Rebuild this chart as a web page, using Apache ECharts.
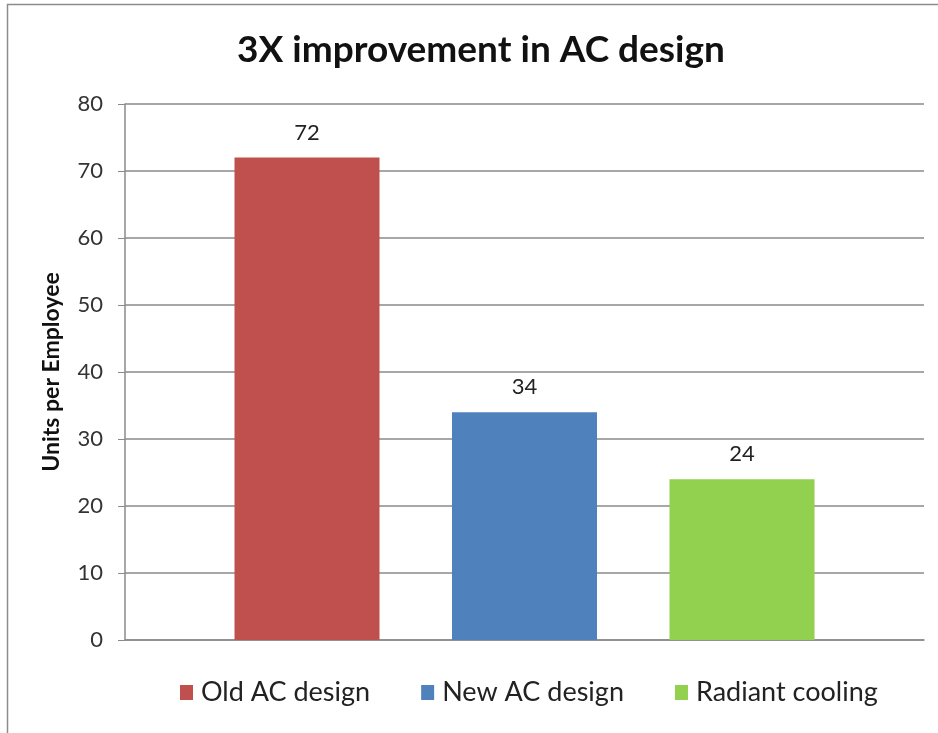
<!DOCTYPE html>
<html>
<head>
<meta charset="utf-8">
<style>
  html, body { margin: 0; padding: 0; background: #ffffff; }
  #chart { width: 938px; height: 733px; }
</style>
<script src="https://cdn.jsdelivr.net/npm/echarts@6/dist/echarts.min.js"></script>
</head>
<body>
<div id="chart"></div>
<script>
// Chart data
const categories = ['AC design'];
const seriesNames = ['Old AC design', 'New AC design', 'Radiant cooling'];
const seriesValues = [72, 34, 24];
const seriesColors = ['#C0504D', '#4F81BD', '#92D050'];
const yTicks = { min: 0, max: 80, interval: 10 };

const FONT = 'Lato, "Open Sans", sans-serif';

const chart = echarts.init(document.getElementById('chart'), null, { renderer: 'canvas' });

const series = seriesNames.map((name, i) => ({
  name: name,
  type: 'bar',
  data: [seriesValues[i]],
  barWidth: 145,
  barGap: '50%',
  itemStyle: { color: seriesColors[i] },
  label: {
    show: true,
    position: 'top',
    distance: 14,
    fontFamily: FONT,
    fontSize: 22,
    color: '#222'
  }
}));

chart.setOption({
  backgroundColor: '#ffffff',
  animation: false,
  title: {
    text: '3X improvement in AC design',
    left: 476,
    textAlign: 'center',
    top: 27,
    textStyle: { fontFamily: FONT, fontSize: 37, fontWeight: 'bold', color: '#111' }
  },
  graphic: [{
    type: 'rect',
    shape: { x: 7.5, y: 4.5, width: 960, height: 760 },
    style: { fill: 'none', stroke: '#8c8c8c', lineWidth: 1.5 },
    silent: true
  }],
  legend: {
    data: seriesNames,
    bottom: 22,
    left: 175,
    itemWidth: 13,
    itemHeight: 15,
    itemGap: 51,
    icon: 'rect',
    textStyle: { fontFamily: FONT, fontSize: 27, color: '#222', padding: [0, 0, 0, 3] }
  },
  grid: { left: 125, right: 14, top: 104, bottom: 93 },
  xAxis: {
    type: 'category',
    data: categories,
    axisLine: { lineStyle: { color: '#8a8a8a', width: 1.5 } },
    axisTick: { show: false },
    axisLabel: { show: false }
  },
  yAxis: {
    type: 'value',
    min: yTicks.min,
    max: yTicks.max,
    interval: yTicks.interval,
    name: 'Units per Employee',
    nameLocation: 'middle',
    nameRotate: 90,
    nameGap: 62,
    nameTextStyle: { fontFamily: FONT, fontSize: 23, fontWeight: 'bold', color: '#111' },
    axisLine: { show: true, lineStyle: { color: '#8a8a8a', width: 1.5 } },
    axisTick: { show: true, length: 7, lineStyle: { color: '#8a8a8a' } },
    axisLabel: { fontFamily: FONT, fontSize: 22, color: '#333', margin: 22 },
    splitLine: { lineStyle: { color: '#8a8a8a', width: 1.5 } }
  },
  series: series
});
</script>
</body>
</html>
